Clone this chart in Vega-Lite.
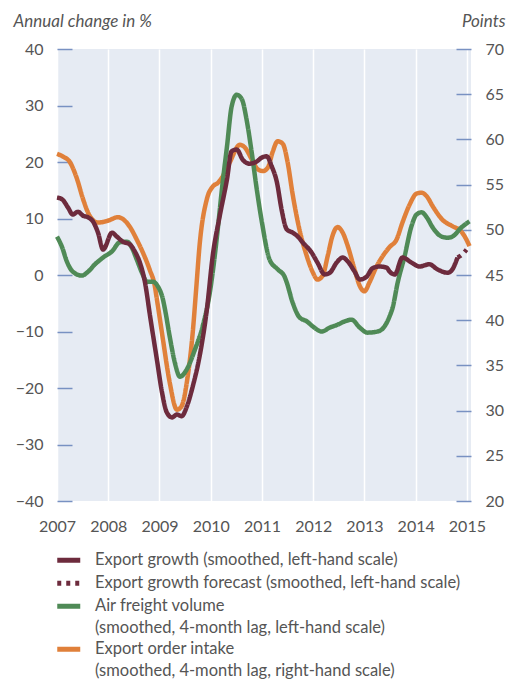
{
  "$schema": "https://vega.github.io/schema/vega-lite/v6.json",
  "width": 414,
  "height": 452,
  "autosize": {"type": "none"},
  "padding": {"left": 57, "top": 49, "right": 36, "bottom": 180},
  "background": "white",
  "config": {
    "view": {"fill": "#e6ebf3", "stroke": null},
    "font": "Lato",
    "axis": {"labelFont": "Lato", "titleFont": "Lato"},
    "legend": {"labelFont": "Lato"},
    "style": {"guide-label": {"lineHeight": 22}}
  },
  "datasets": {
    "main": [
      {"s":"air","t":2007.0,"v":6.8},{"s":"air","t":2007.1,"v":4.9},{"s":"air","t":2007.192,"v":2.4},{"s":"air","t":2007.308,"v":0.6},{"s":"air","t":2007.483,"v":-0.1},{"s":"air","t":2007.608,"v":0.6},{"s":"air","t":2007.742,"v":1.9},{"s":"air","t":2007.9,"v":3.1},{"s":"air","t":2008.075,"v":4.2},{"s":"air","t":2008.225,"v":5.8},{"s":"air","t":2008.367,"v":5.9},{"s":"air","t":2008.458,"v":4.9},{"s":"air","t":2008.558,"v":2.7},{"s":"air","t":2008.658,"v":0.4},{"s":"air","t":2008.758,"v":-1.2},{"s":"air","t":2008.875,"v":-1.2},{"s":"air","t":2008.967,"v":-2.0},{"s":"air","t":2009.067,"v":-4.3},{"s":"air","t":2009.108,"v":-6.1},{"s":"air","t":2009.2,"v":-10.9},{"s":"air","t":2009.3,"v":-15.5},{"s":"air","t":2009.4,"v":-18.0},{"s":"air","t":2009.533,"v":-16.7},{"s":"air","t":2009.692,"v":-13.2},{"s":"air","t":2009.842,"v":-9.1},{"s":"air","t":2009.983,"v":-3.1},{"s":"air","t":2010.067,"v":2.5},{"s":"air","t":2010.142,"v":8.5},{"s":"air","t":2010.225,"v":15.7},{"s":"air","t":2010.317,"v":22.7},{"s":"air","t":2010.408,"v":29.8},{"s":"air","t":2010.508,"v":31.9},{"s":"air","t":2010.608,"v":31.1},{"s":"air","t":2010.7,"v":27.5},{"s":"air","t":2010.8,"v":21.7},{"s":"air","t":2010.9,"v":15.1},{"s":"air","t":2011.0,"v":9.3},{"s":"air","t":2011.15,"v":2.7},{"s":"air","t":2011.308,"v":1.0},{"s":"air","t":2011.442,"v":-0.3},{"s":"air","t":2011.483,"v":-1.3},{"s":"air","t":2011.6,"v":-4.9},{"s":"air","t":2011.733,"v":-7.5},{"s":"air","t":2011.875,"v":-8.2},{"s":"air","t":2011.992,"v":-9.1},{"s":"air","t":2012.167,"v":-10.0},{"s":"air","t":2012.325,"v":-9.3},{"s":"air","t":2012.475,"v":-8.8},{"s":"air","t":2012.617,"v":-8.2},{"s":"air","t":2012.75,"v":-7.9},{"s":"air","t":2012.908,"v":-9.3},{"s":"air","t":2013.058,"v":-10.2},{"s":"air","t":2013.258,"v":-10.0},{"s":"air","t":2013.392,"v":-9.1},{"s":"air","t":2013.492,"v":-7.3},{"s":"air","t":2013.55,"v":-5.8},{"s":"air","t":2013.65,"v":-1.3},{"s":"air","t":2013.783,"v":3.3},{"s":"air","t":2013.917,"v":8.6},{"s":"air","t":2014.017,"v":10.7},{"s":"air","t":2014.117,"v":11.1},{"s":"air","t":2014.217,"v":10.2},{"s":"air","t":2014.333,"v":8.4},{"s":"air","t":2014.508,"v":6.8},{"s":"air","t":2014.625,"v":6.6},{"s":"air","t":2014.717,"v":6.8},{"s":"air","t":2014.892,"v":8.4},{"s":"air","t":2015.05,"v":9.5},
      {"s":"growth","t":2007.0,"v":13.7},{"s":"growth","t":2007.1,"v":13.4},{"s":"growth","t":2007.217,"v":11.9},{"s":"growth","t":2007.308,"v":10.7},{"s":"growth","t":2007.408,"v":11.2},{"s":"growth","t":2007.508,"v":10.5},{"s":"growth","t":2007.608,"v":10.2},{"s":"growth","t":2007.7,"v":9.5},{"s":"growth","t":2007.8,"v":7.5},{"s":"growth","t":2007.9,"v":4.5},{"s":"growth","t":2008.075,"v":7.5},{"s":"growth","t":2008.167,"v":6.8},{"s":"growth","t":2008.283,"v":5.9},{"s":"growth","t":2008.425,"v":5.4},{"s":"growth","t":2008.517,"v":4.2},{"s":"growth","t":2008.617,"v":2.2},{"s":"growth","t":2008.717,"v":-1.3},{"s":"growth","t":2008.817,"v":-7.3},{"s":"growth","t":2008.95,"v":-15.0},{"s":"growth","t":2009.05,"v":-20.8},{"s":"growth","t":2009.142,"v":-24.3},{"s":"growth","t":2009.242,"v":-25.2},{"s":"growth","t":2009.342,"v":-24.7},{"s":"growth","t":2009.433,"v":-25.0},{"s":"growth","t":2009.533,"v":-23.3},{"s":"growth","t":2009.65,"v":-19.7},{"s":"growth","t":2009.783,"v":-14.4},{"s":"growth","t":2009.925,"v":-6.1},{"s":"growth","t":2010.042,"v":3.6},{"s":"growth","t":2010.175,"v":10.4},{"s":"growth","t":2010.317,"v":16.9},{"s":"growth","t":2010.408,"v":21.9},{"s":"growth","t":2010.508,"v":22.2},{"s":"growth","t":2010.625,"v":20.4},{"s":"growth","t":2010.758,"v":19.7},{"s":"growth","t":2010.9,"v":20.1},{"s":"growth","t":2011.0,"v":20.8},{"s":"growth","t":2011.092,"v":21.0},{"s":"growth","t":2011.192,"v":19.2},{"s":"growth","t":2011.292,"v":16.4},{"s":"growth","t":2011.383,"v":11.6},{"s":"growth","t":2011.483,"v":8.1},{"s":"growth","t":2011.6,"v":7.5},{"s":"growth","t":2011.7,"v":6.8},{"s":"growth","t":2011.792,"v":5.8},{"s":"growth","t":2011.967,"v":4.0},{"s":"growth","t":2012.083,"v":2.2},{"s":"growth","t":2012.225,"v":0.1},{"s":"growth","t":2012.325,"v":0.4},{"s":"growth","t":2012.458,"v":2.2},{"s":"growth","t":2012.575,"v":3.1},{"s":"growth","t":2012.675,"v":2.4},{"s":"growth","t":2012.808,"v":0.6},{"s":"growth","t":2012.908,"v":-0.8},{"s":"growth","t":2013.042,"v":-0.3},{"s":"growth","t":2013.158,"v":1.2},{"s":"growth","t":2013.292,"v":1.5},{"s":"growth","t":2013.433,"v":1.3},{"s":"growth","t":2013.492,"v":0.6},{"s":"growth","t":2013.592,"v":0.1},{"s":"growth","t":2013.742,"v":3.1},{"s":"growth","t":2013.917,"v":2.2},{"s":"growth","t":2014.075,"v":1.5},{"s":"growth","t":2014.267,"v":1.9},{"s":"growth","t":2014.425,"v":1.0},{"s":"growth","t":2014.625,"v":0.4},{"s":"growth","t":2014.717,"v":1.0},{"s":"growth","t":2014.817,"v":3.1},
      {"s":"forecast","t":2014.817,"v":3.1},{"s":"forecast","t":2014.892,"v":3.5},{"s":"forecast","t":2014.992,"v":4.5},
      {"s":"orders","t":2007.0,"v":58.4},{"s":"orders","t":2007.117,"v":58.1},{"s":"orders","t":2007.25,"v":57.5},{"s":"orders","t":2007.392,"v":55.6},{"s":"orders","t":2007.508,"v":53.4},{"s":"orders","t":2007.642,"v":51.5},{"s":"orders","t":2007.8,"v":50.8},{"s":"orders","t":2007.992,"v":51.0},{"s":"orders","t":2008.192,"v":51.4},{"s":"orders","t":2008.283,"v":51.2},{"s":"orders","t":2008.425,"v":50.3},{"s":"orders","t":2008.558,"v":48.9},{"s":"orders","t":2008.675,"v":47.5},{"s":"orders","t":2008.808,"v":45.6},{"s":"orders","t":2008.908,"v":43.8},{"s":"orders","t":2008.95,"v":42.3},{"s":"orders","t":2009.067,"v":37.9},{"s":"orders","t":2009.2,"v":33.1},{"s":"orders","t":2009.342,"v":30.1},{"s":"orders","t":2009.433,"v":30.5},{"s":"orders","t":2009.533,"v":33.1},{"s":"orders","t":2009.65,"v":38.7},{"s":"orders","t":2009.717,"v":43.5},{"s":"orders","t":2009.783,"v":48.3},{"s":"orders","t":2009.925,"v":53.4},{"s":"orders","t":2010.042,"v":54.8},{"s":"orders","t":2010.142,"v":55.2},{"s":"orders","t":2010.233,"v":55.9},{"s":"orders","t":2010.375,"v":57.5},{"s":"orders","t":2010.567,"v":59.4},{"s":"orders","t":2010.667,"v":59.1},{"s":"orders","t":2010.8,"v":57.8},{"s":"orders","t":2010.917,"v":56.7},{"s":"orders","t":2011.017,"v":56.5},{"s":"orders","t":2011.117,"v":56.9},{"s":"orders","t":2011.208,"v":58.6},{"s":"orders","t":2011.308,"v":59.8},{"s":"orders","t":2011.408,"v":59.5},{"s":"orders","t":2011.5,"v":57.5},{"s":"orders","t":2011.6,"v":53.9},{"s":"orders","t":2011.733,"v":50.0},{"s":"orders","t":2011.875,"v":47.1},{"s":"orders","t":2011.992,"v":45.3},{"s":"orders","t":2012.083,"v":44.5},{"s":"orders","t":2012.183,"v":44.9},{"s":"orders","t":2012.283,"v":47.1},{"s":"orders","t":2012.375,"v":49.3},{"s":"orders","t":2012.475,"v":50.3},{"s":"orders","t":2012.575,"v":49.7},{"s":"orders","t":2012.675,"v":48.2},{"s":"orders","t":2012.808,"v":45.6},{"s":"orders","t":2012.908,"v":43.8},{"s":"orders","t":2013.0,"v":43.2},{"s":"orders","t":2013.1,"v":44.2},{"s":"orders","t":2013.233,"v":45.9},{"s":"orders","t":2013.358,"v":47.1},{"s":"orders","t":2013.492,"v":48.1},{"s":"orders","t":2013.625,"v":48.9},{"s":"orders","t":2013.742,"v":50.8},{"s":"orders","t":2013.883,"v":52.8},{"s":"orders","t":2014.017,"v":54.0},{"s":"orders","t":2014.117,"v":54.1},{"s":"orders","t":2014.217,"v":53.7},{"s":"orders","t":2014.333,"v":52.6},{"s":"orders","t":2014.525,"v":51.1},{"s":"orders","t":2014.717,"v":50.4},{"s":"orders","t":2014.892,"v":49.8},{"s":"orders","t":2014.992,"v":48.9},{"s":"orders","t":2015.05,"v":48.2}
    ]
  },
  "data": {"name": "main"},
  "encoding": {
    "x": {
      "field": "t", "type": "quantitative",
      "scale": {"domain": [2007, 2015.08], "nice": false, "zero": false},
      "axis": {
        "title": null, "values": [2007,2008,2009,2010,2011,2012,2013,2014,2015], "format": "d",
        "grid": true, "gridColor": "white", "gridWidth": 1.5, "ticks": false, "domain": false,
        "labelFlush": false, "labelOverlap": false, "labelPadding": 17,
        "labelFontSize": 16, "labelColor": "#555555"
      }
    },
    "color": {
      "field": "s", "type": "nominal",
      "scale": {"domain": ["growth","forecast","air","orders"], "range": ["#6d2b3d","#6d2b3d","#4f8a56","#e0803a"]},
      "legend": {
        "title": null, "orient": "none", "legendX": 0, "legendY": 503, "padding": 0,
        "symbolType": "M-2.3,0H2.3", "symbolSize": 100, "symbolStrokeWidth": 5, "symbolOffset": 3.5,
        "symbolFillColor": "transparent",
        "labelOffset": 18, "rowPadding": 2, "labelFontSize": 16.5, "labelColor": "#555555", "labelLimit": 1000,
        "labelBaseline": "middle",
        "labelExpr": "datum.value == 'growth' ? 'Export growth (smoothed, left-hand scale)' : datum.value == 'forecast' ? 'Export growth forecast (smoothed, left-hand scale)' : datum.value == 'air' ? ['Air freight volume', '(smoothed, 4-month lag, left-hand scale)'] : ['Export order intake', '(smoothed, 4-month lag, right-hand scale)']",
        "encoding": {"labels": {"update": {"lineHeight": {"value": 22}}}}
      }
    },
    "strokeDash": {
      "field": "s", "type": "nominal",
      "scale": {"domain": ["growth","forecast","air","orders"], "range": [[1,0],[4,5],[1,0],[1,0]]}
    }
  },
  "layer": [
    {
      "transform": [{"filter": "datum.s == 'orders'"}],
      "mark": {"type": "line", "strokeWidth": 4.5, "interpolate": "monotone"},
      "encoding": {
        "y": {
          "field": "v", "type": "quantitative",
          "scale": {"domain": [20, 70], "nice": false, "zero": false},
          "axis": {
            "orient": "right", "values": [20,25,30,35,40,45,50,55,60,65,70],
            "domain": false, "grid": false, "tickSize": -15, "tickColor": "#7891c2", "tickWidth": 1.5,
            "labelPadding": 29, "labelFontSize": 16, "labelColor": "#555555", "labelFlush": false, "labelOverlap": false,
            "title": "Points", "titleAngle": 0, "titleX": 34, "titleY": -23, "titleAlign": "right",
            "titleBaseline": "alphabetic", "titleFontStyle": "italic", "titleFontWeight": "normal",
            "titleFontSize": 17, "titleColor": "#555555"
          }
        }
      }
    },
    {
      "transform": [{"filter": "datum.s != 'orders'"}],
      "mark": {"type": "line", "strokeWidth": 4.5, "interpolate": "monotone"},
      "encoding": {
        "y": {
          "field": "v", "type": "quantitative",
          "scale": {"domain": [-40, 40], "nice": false},
          "axis": {
            "orient": "left", "values": [-40,-30,-20,-10,0,10,20,30,40],
            "domain": false, "grid": false, "tickSize": -15, "tickColor": "#7891c2", "tickWidth": 1.5,
            "labelPadding": 29, "labelFontSize": 16, "labelColor": "#555555", "labelFlush": false, "labelOverlap": false,
            "title": "Annual change in %", "titleAngle": 0, "titleX": -44, "titleY": -23, "titleAlign": "left",
            "titleBaseline": "alphabetic", "titleFontStyle": "italic", "titleFontWeight": "normal",
            "titleFontSize": 17, "titleColor": "#555555"
          }
        }
      }
    }
  ],
  "resolve": {"scale": {"y": "independent"}}
}
